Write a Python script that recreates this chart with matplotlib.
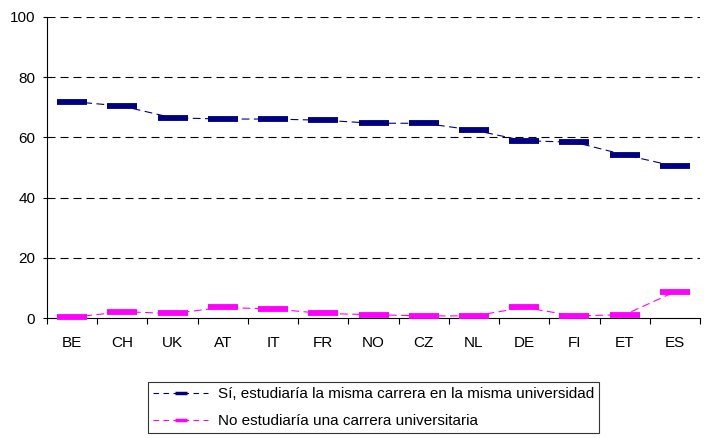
import matplotlib
matplotlib.use("Agg")
import matplotlib.pyplot as plt
from matplotlib.lines import Line2D
import numpy as np

countries = ["BE", "CH", "UK", "AT", "IT", "FR", "NO", "CZ", "NL", "DE", "FI", "ET", "ES"]
si_misma = [71.9, 70.4, 66.5, 66.1, 66.1, 65.7, 64.7, 64.7, 62.4, 58.9, 58.4, 54.2, 50.4]
no_estudiaria = [0.2, 2.1, 1.5, 3.5, 3.0, 1.5, 1.1, 0.7, 0.7, 3.5, 0.7, 1.1, 8.7]
labels = ["Sí, estudiaría la misma carrera en la misma universidad",
          "No estudiaría una carrera universitaria"]
yticks = [0, 20, 40, 60, 80, 100]

plt.rcParams['font.family'] = ['Liberation Sans', 'DejaVu Sans']

fig = plt.figure(figsize=(7.04, 4.38), dpi=100)
ax = fig.add_axes([47/704, 1-318/438, 653/704, 301/438])

navy = "#000080"
mag = "#FF00FF"
x = np.arange(len(countries))

ax.plot(x, si_misma, color=navy, lw=0.8, ls=(0, (7, 4)), marker="_",
        markersize=22, markeredgewidth=4.2, markeredgecolor=navy, zorder=3)
ax.plot(x, no_estudiaria, color=mag, lw=0.8, ls=(0, (7, 4)), marker="_",
        markersize=22, markeredgewidth=4.2, markeredgecolor=mag, zorder=3,
        clip_on=False)

ax.set_xlim(-0.5, len(countries) - 0.5)
ax.set_ylim(0, 100)
ax.set_yticks(yticks)
ax.set_xticks(x)
ax.set_xticklabels(countries)
ax.set_xticks(np.arange(len(countries) + 1) - 0.5, minor=True)
ax.tick_params(axis='x', which='major', length=0, pad=13, labelsize=11)
ax.tick_params(axis='x', which='minor', length=4, direction='out', width=0.8)
ax.tick_params(axis='y', length=3, direction='out', width=0.8, labelsize=11, pad=5.5)

for s in ["top", "right"]:
    ax.spines[s].set_visible(False)
for s in ["left", "bottom"]:
    ax.spines[s].set_linewidth(0.8)
    ax.spines[s].set_color("black")

for yv in yticks[1:]:
    ax.axhline(yv, color="black", lw=0.8, ls=(0, (7.2, 4.5)), zorder=1)

handles = [
    Line2D([], [], color=navy, lw=0.8, ls=(0, (5, 4)), marker="_", markersize=9, markeredgewidth=2.5),
    Line2D([], [], color=mag, lw=0.8, ls=(0, (5, 4)), marker="_", markersize=9, markeredgewidth=2.5),
]
leg = fig.legend(handles, labels, loc="upper left", bbox_to_anchor=(148/704, 1-382/438),
                 frameon=True, fancybox=False, fontsize=11, handlelength=3.6,
                 labelspacing=0.83, borderpad=0.35, handletextpad=0.6, borderaxespad=0)
leg.get_frame().set_edgecolor("black")
leg.get_frame().set_linewidth(0.8)

fig.savefig("out.png", dpi=100)
